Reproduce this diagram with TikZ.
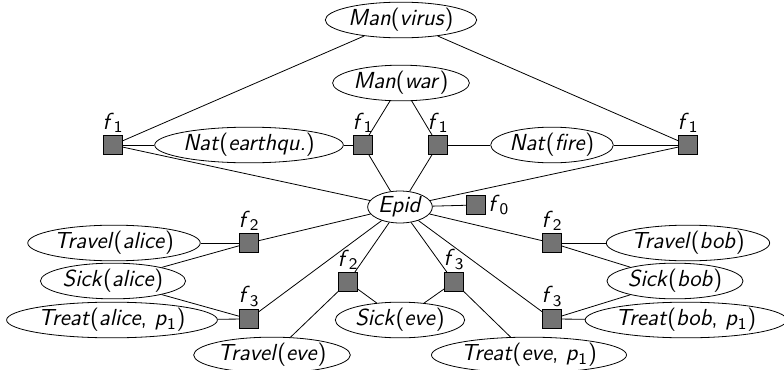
\documentclass[tikz,border=0pt]{standalone}
\usetikzlibrary{shapes.geometric}
\newcommand{\pred}[2]{\textit{#1}(\textit{#2})}
\newcommand{\fsub}[1]{\textit{f}\textsubscript{#1}}
\begin{document}
\begin{tikzpicture}[
    x=0.5pt, y=-0.5pt,
    var/.style ={draw, ellipse, inner sep=0.5pt, minimum height=15pt,
                 font=\sffamily\fontsize{11.6}{13}\selectfont},
    fac/.style ={draw, fill=black!55, minimum size=9.5pt, inner sep=0pt},
    flab/.style={font=\sffamily\fontsize{11.6}{13}\selectfont, inner sep=1pt},
]
\useasboundingbox (0,0) rectangle (784,370);
% top: causes of the epidemic
\node[var] (virus) at (401,20) {\pred{Man}{virus}};
\node[var] (war)   at (401,83) {\pred{Man}{war}};
\node[var] (quake) at (249,145) {\pred{Nat}{earthqu.}};
\node[var] (fire)  at (552,145) {\pred{Nat}{fire}};
\node[fac, label={[flab]above:\fsub{1}}] (fa) at (113,145) {};
\node[fac, label={[flab]above:\fsub{1}}] (fb) at (363,145) {};
\node[fac, label={[flab]above:\fsub{1}}] (fc) at (438,145) {};
\node[fac, label={[flab]above:\fsub{1}}] (fd) at (688,145) {};
\node[var] (epid) at (400,207) {\textit{Epid}};
\node[fac, label={[flab]right:\fsub{0}}] (f0) at (476,205) {};
% people
\node[var] (tra) at (114,243) {\pred{Travel}{alice}};
\node[var] (sia) at (113,281) {\pred{Sick}{alice}};
\node[var] (tta) at (112,320) {\textit{Treat}(\textit{alice}, \textit{p}\textsubscript{1})};
\node[var] (tre) at (272,355) {\pred{Travel}{eve}};
\node[var] (sie) at (400,320) {\pred{Sick}{eve}};
\node[var] (tte) at (529,355) {\textit{Treat}(\textit{eve}, \textit{p}\textsubscript{1})};
\node[var] (trb) at (688,243) {\pred{Travel}{bob}};
\node[var] (sib) at (675,281) {\pred{Sick}{bob}};
\node[var] (ttb) at (686,320) {\textit{Treat}(\textit{bob}, \textit{p}\textsubscript{1})};
\node[fac, label={[flab]above:\fsub{2}}] (f2a) at (249,243) {};
\node[fac, label={[flab]above:\fsub{3}}] (f3a) at (249,319) {};
\node[fac, label={[flab]above:\fsub{2}}] (f2e) at (348,282) {};
\node[fac, label={[flab]above:\fsub{3}}] (f3e) at (454,282) {};
\node[fac, label={[flab]above:\fsub{2}}] (f2b) at (552,243) {};
\node[fac, label={[flab]above:\fsub{3}}] (f3b) at (552,319) {};
% edges
\draw (virus) -- (fa);  \draw (virus) -- (fd);
\draw (war) -- (fb);    \draw (war) -- (fc);
\draw (fa) -- (quake);  \draw (quake) -- (fb);
\draw (fc) -- (fire);   \draw (fire) -- (fd);
\foreach \f in {fa,fb,fc,fd,f0,f2a,f3a,f2e,f3e,f2b,f3b}
  \draw (epid) -- (\f);
\draw (f2a) -- (tra);  \draw (f2a) -- (sia);
\draw (f3a) -- (sia);  \draw (f3a) -- (tta);
\draw (f2e) -- (tre);  \draw (f2e) -- (sie);
\draw (f3e) -- (sie);  \draw (f3e) -- (tte);
\draw (f2b) -- (trb);  \draw (f2b) -- (sib);
\draw (f3b) -- (sib);  \draw (f3b) -- (ttb);
\end{tikzpicture}
\end{document}
